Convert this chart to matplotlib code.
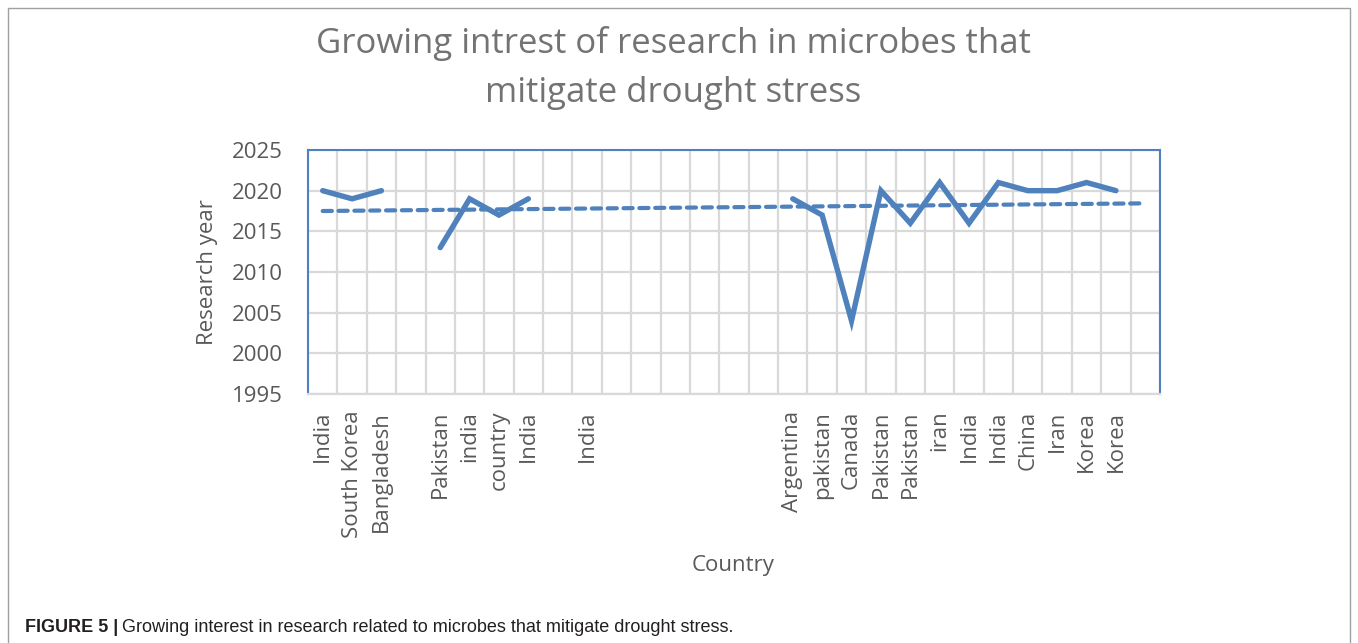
import numpy as np
import matplotlib.pyplot as plt
from matplotlib.patches import Rectangle

# Countries along the category axis (empty strings are blank categories)
countries = ['India', 'South Korea', 'Bangladesh', '', 'Pakistan', 'india', 'country', 'India',
             '', 'India', '', '', '', '', '', '', 'Argentina', 'pakistan', 'Canada', 'Pakistan',
             'Pakistan', 'iran', 'India', 'India', 'China', 'Iran', 'Korea', 'Korea', '']
# Research year per category (nan where nothing is plotted)
years = [2020, 2019, 2020, np.nan, 2013, 2019, 2017, 2019,
         np.nan, np.nan, np.nan, np.nan, np.nan, np.nan, np.nan, np.nan, 2019, 2017, 2004, 2020,
         2016, 2021, 2016, 2021, 2020, 2020, 2021, 2020, np.nan]
y_ticks = [1995, 2000, 2005, 2010, 2015, 2020, 2025]

blue = '#4F81BD'
grey_text = '#595959'
title_col = '#737373'
grid_col = '#D9D9D9'

fig = plt.figure(figsize=(13.58, 6.43), dpi=100)
ax = fig.add_axes([308 / 1358, 1 - 394 / 643, 852 / 1358, 244 / 643])

x = np.arange(len(countries))
y = np.array(years, dtype=float)
ax.plot(x, y, color=blue, linewidth=3.9, solid_capstyle='round', solid_joinstyle='miter', zorder=3)

# linear trend line over the plotted points
mask = ~np.isnan(y)
coef = np.polyfit(x[mask], y[mask], 1)
ax.plot(x, np.polyval(coef, x), color=blue, linewidth=3.0, linestyle=(0, (2.2, 1.6)),
        dash_capstyle='round', zorder=3)

ax.set_xlim(-0.5, len(countries) - 0.5)
ax.set_ylim(1995, 2025)
ax.set_yticks(y_ticks)
ax.set_yticklabels([str(t) for t in y_ticks])
ax.set_xticks(x)
ax.set_xticklabels(countries, rotation=90, va='top', ha='center')
ax.set_xticks(np.arange(len(countries) + 1) - 0.5, minor=True)
ax.tick_params(axis='both', which='both', length=0, labelsize=16, labelcolor=grey_text)
ax.tick_params(axis='x', pad=12)
ax.tick_params(axis='y', pad=18)
ax.grid(False)
ax.grid(True, axis='y', which='major', color=grid_col, linewidth=1.6)
ax.grid(True, axis='x', which='minor', color=grid_col, linewidth=1.6)
ax.set_axisbelow(True)
for side in ['left', 'top', 'right']:
    ax.spines[side].set_color(blue)
    ax.spines[side].set_linewidth(1.5)
ax.spines['bottom'].set_color(grid_col)
ax.spines['bottom'].set_linewidth(1.6)

for lbl in ax.get_xticklabels() + ax.get_yticklabels():
    lbl.set_fontfamily('Open Sans')

ax.set_ylabel('Research year', fontsize=16, color=grey_text, family='Open Sans', labelpad=10)
fig.text(733 / 1358, 1 - 566 / 643, 'Country', fontsize=16, color=grey_text,
         family='Open Sans', ha='center', va='center')

fig.text(673 / 1358, 1 - 68 / 643, 'Growing intrest of research in microbes that\nmitigate drought stress',
         fontsize=25, color=title_col, family='Open Sans', ha='center', va='center',
         linespacing=1.6)

# outer frame and caption
fig.patches.append(Rectangle((8 / 1358, -0.01), 1342 / 1358, 1 - 8 / 643 + 0.01,
                             transform=fig.transFigure, fill=False, edgecolor='#A0A0A0',
                             linewidth=1.0))
cap_font = ['Liberation Sans Narrow', 'Liberation Sans']
t1 = fig.text(25 / 1358, 1 - 627 / 643, 'FIGURE 5 |', fontsize=13, fontweight='bold',
              family=cap_font, color='#231F20', va='center', ha='left')
fig.canvas.draw()
bb = t1.get_window_extent()
fig.text(bb.x1 / 1358 + 4 / 1358, 1 - 627 / 643,
         'Growing interest in research related to microbes that mitigate drought stress.',
         fontsize=13, family=cap_font, color='#231F20', va='center', ha='left')

fig.savefig('out.png', dpi=100)
